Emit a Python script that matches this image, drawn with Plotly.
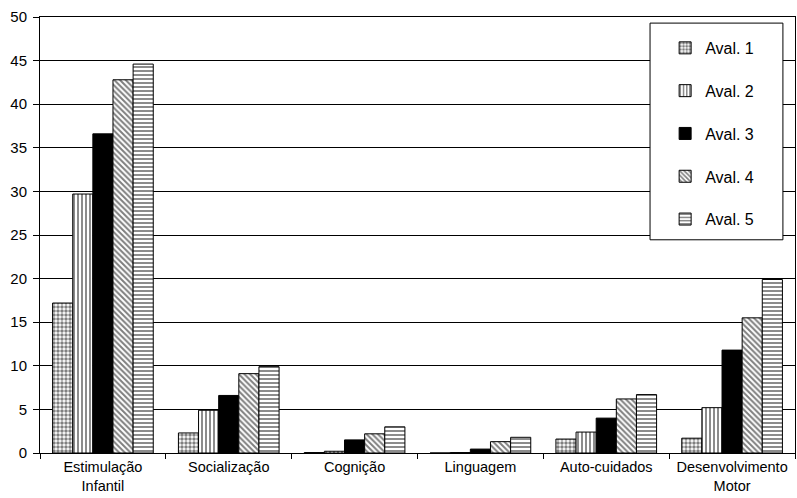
import plotly.graph_objects as go

categories = ["Estimulação<br>Infantil", "Socialização", "Cognição", "Linguagem",
              "Auto-cuidados", "Desenvolvimento<br>Motor"]
series_names = ["Aval. 1", "Aval. 2", "Aval. 3", "Aval. 4", "Aval. 5"]
aval1 = [17.2, 2.3, 0.05, 0.0, 1.6, 1.7]
aval2 = [29.7, 4.9, 0.2, 0.05, 2.4, 5.2]
aval3 = [36.6, 6.6, 1.5, 0.45, 4.0, 11.8]
aval4 = [42.8, 9.1, 2.2, 1.3, 6.2, 15.5]
aval5 = [44.6, 9.9, 3.0, 1.8, 6.7, 19.9]
y_ticks = [0, 5, 10, 15, 20, 25, 30, 35, 40, 45, 50]

series_values = [aval1, aval2, aval3, aval4, aval5]
patterns = [".", "|", "", "\\", "-"]
fills = ["white", "white", "black", "white", "white"]
solidities = [0.6, 0.45, 0.5, 0.5, 0.45]

fig = go.Figure()
for i, (name, vals, pat, fill, sol) in enumerate(
        zip(series_names, series_values, patterns, fills, solidities)):
    fig.add_trace(go.Bar(
        name=name, x=categories, y=vals, legendgroup=f"g{i}",
        marker=dict(
            color=fill,
            line=dict(color="black", width=1),
            pattern=dict(shape=pat, fgcolor="black", bgcolor=fill,
                         size=4, solidity=sol),
        ),
    ))

# framed legend panel
fig.add_shape(type="rect", xref="paper", yref="paper",
              x0=0.808, x1=0.984, y0=0.489, y1=0.986,
              line=dict(color="black", width=1), fillcolor="white", layer="above")

fig.update_layout(
    width=797, height=498,
    margin=dict(l=40, r=2, t=17, b=45),
    paper_bgcolor="white", plot_bgcolor="white",
    barmode="group", bargap=0.2, bargroupgap=0,
    font=dict(family="Liberation Sans, Arial, sans-serif", size=15, color="black"),
    showlegend=True,
    legend=dict(
        x=0.828, y=0.968, xanchor="left", yanchor="top",
        bgcolor="rgba(0,0,0,0)", borderwidth=0,
        font=dict(size=16), tracegroupgap=19, itemwidth=30,
    ),
    xaxis=dict(
        showline=True, linecolor="black", linewidth=1, mirror=True,
        ticks="outside", tickson="boundaries", ticklen=5, tickcolor="black",
        tickfont=dict(size=14.5), ticklabelstandoff=1, automargin=False,
    ),
    yaxis=dict(
        range=[0, 50], tickvals=y_ticks,
        showline=True, linecolor="black", linewidth=1, mirror=True,
        showgrid=True, gridcolor="black", gridwidth=1,
        ticks="outside", ticklen=6, tickcolor="black",
        tickfont=dict(size=15), ticklabelstandoff=3, automargin=False,
    ),
)

fig.write_html("out.html")
